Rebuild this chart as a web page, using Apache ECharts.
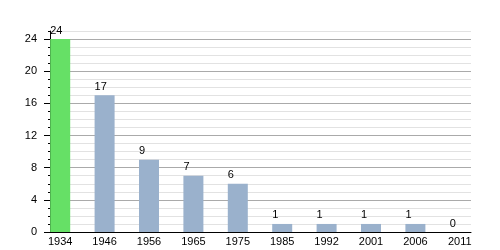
<!DOCTYPE html>
<html><head><meta charset="utf-8">
<script src="https://cdn.jsdelivr.net/npm/echarts@6/dist/echarts.min.js"></script>
<style>html,body{margin:0;padding:0;background:#fff}#c{width:500px;height:250px}</style>
</head><body><div id="c"></div>
<script>
var years = ['1934','1946','1956','1965','1975','1985','1992','2001','2006','2011'];
var values = [24,17,9,7,6,1,1,1,1,0];
var highlightIndex = 0;
var yTicks = [0,4,8,12,16,20,24];

var FONT = 'Liberation Sans';
var chart = echarts.init(document.getElementById('c'));
var barData = values.map(function(v,i){
  return {value:v, itemStyle:{color: i===highlightIndex ? '#66e066' : '#9ab1cc'}};
});
chart.setOption({
  animation:false,
  grid:[
    {left:38, right:18, top:31, bottom:18},
    {left:50, right:29, top:39, bottom:18},
    {left:50, right:29, top:31, bottom:18}
  ],
  xAxis:[
    {gridIndex:0, type:'category', data:years, axisLine:{show:false}, axisTick:{show:false},
     axisLabel:{color:'#000', fontSize:11, fontFamily:FONT, margin:4}},
    {gridIndex:1, type:'value', show:false},
    {gridIndex:2, type:'value', min:0, max:1, axisLine:{show:true, lineStyle:{color:'#000', width:1}},
     axisTick:{show:false}, axisLabel:{show:false}, splitLine:{show:false}}
  ],
  yAxis:[
    {gridIndex:0, type:'value', min:0, max:25, show:false},
    {gridIndex:1, type:'value', min:0, max:yTicks[yTicks.length-1], interval:4,
     axisLine:{show:true, lineStyle:{color:'#000'}},
     axisTick:{show:true, length:6, lineStyle:{color:'#000'}},
     axisLabel:{color:'#000', fontSize:11, fontFamily:FONT, margin:13},
     splitLine:{show:false}},
    {gridIndex:2, type:'value', min:0, max:25, interval:1,
     axisLine:{show:true, lineStyle:{color:'#000'}},
     axisTick:{show:true, length:2, lineStyle:{color:'#000'}},
     axisLabel:{show:false},
     splitLine:{show:true, lineStyle:{width:1, color:['#aaaaaa','#e2e2e2','#e2e2e2','#e2e2e2']}}}
  ],
  series:[{
    type:'bar', xAxisIndex:0, yAxisIndex:0, data:barData, barWidth:20, z:3,
    label:{show:true, position:[0,-14], color:'#000', fontSize:11, fontFamily:FONT, align:'left'}
  }]
});
</script></body></html>
